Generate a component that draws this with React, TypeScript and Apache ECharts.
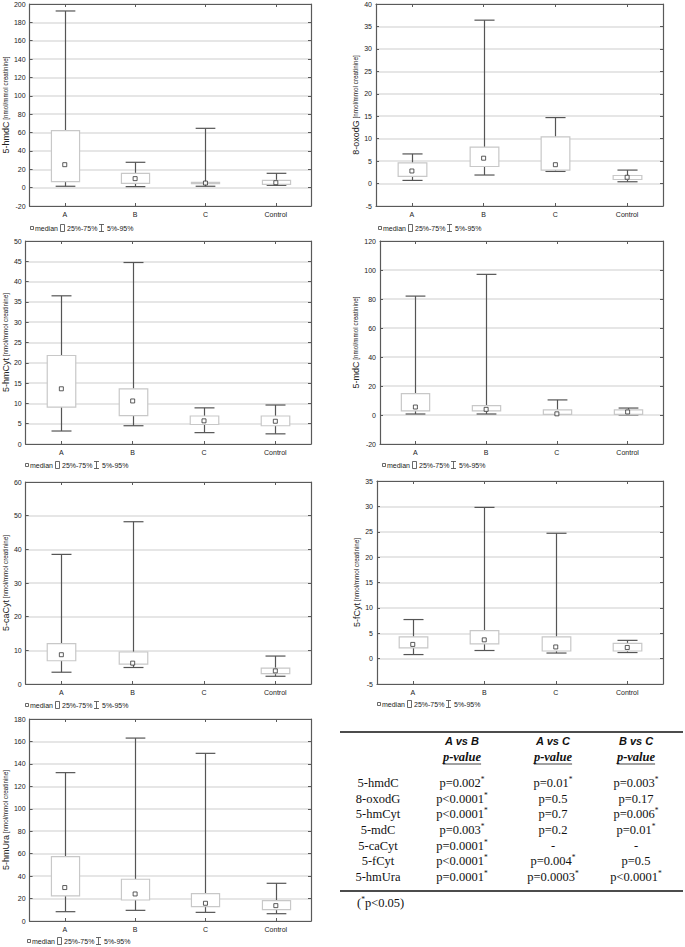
import React, { useEffect, useRef } from "react";
import * as echarts from "echarts";

const categories = ["A", "B", "C", "Control"];

// 5-hmdC
const hmdC_p05 = [1.5, 1.1, 1.5, 2.5];
const hmdC_q25 = [6.5, 4.7, 4.4, 3.6];
const hmdC_med = [25, 9.8, 5, 5.4];
const hmdC_q75 = [62, 15.6, 5.8, 8];
const hmdC_p95 = [192.4, 27.6, 64.6, 15.6];
// 8-oxodG
const oxodG_p05 = [0.7, 1.9, 2.7, 0.4];
const oxodG_q25 = [1.6, 3.8, 3.0, 0.9];
const oxodG_med = [2.8, 5.65, 4.2, 1.4];
const oxodG_q75 = [4.6, 8.1, 10.4, 1.8];
const oxodG_p95 = [6.6, 36.4, 14.7, 3.0];
// 5-hmCyt
const hmCyt_p05 = [3.2, 4.5, 2.8, 2.5];
const hmCyt_q25 = [9.1, 7.0, 4.8, 4.5];
const hmCyt_med = [13.6, 10.6, 5.7, 5.6];
const hmCyt_q75 = [21.8, 13.6, 6.9, 6.9];
const hmCyt_p95 = [36.5, 44.7, 8.9, 9.6];
// 5-mdC
const mdC_p05 = [0.7, 0.7, 0.5, 0.1];
const mdC_q25 = [2.8, 2.8, 0.5, 0.4];
const mdC_med = [5.5, 3.9, 0.8, 2.1];
const mdC_q75 = [14.7, 6.4, 3.5, 3.5];
const mdC_p95 = [82, 97, 10.4, 4.8];
// 5-caCyt (no data for C)
const caCyt_p05 = [3.5, 4.9, null, 2.3];
const caCyt_q25 = [6.9, 5.9, null, 3.1];
const caCyt_med = [8.7, 6.2, null, 3.9];
const caCyt_q75 = [12, 9.5, null, 4.7];
const caCyt_p95 = [38.5, 48.2, null, 8.3];
// 5-fCyt
const fCyt_p05 = [0.8, 1.6, 1.1, 1.2];
const fCyt_q25 = [2.1, 2.9, 1.5, 1.5];
const fCyt_med = [2.8, 3.7, 2.3, 2.2];
const fCyt_q75 = [4.3, 5.5, 4.3, 3.0];
const fCyt_p95 = [7.7, 29.8, 24.7, 3.6];
// 5-hmUra
const hmUra_p05 = [8.3, 9.5, 7.7, 6.5];
const hmUra_q25 = [22.3, 18.7, 12.8, 10.1];
const hmUra_med = [29.8, 24.1, 15.8, 13.7];
const hmUra_q75 = [57.4, 37.2, 24.4, 18.1];
const hmUra_p95 = [132.2, 163, 149.4, 33.6];

// axis ranges [min, max, step]
const hmdC_axis = [-20, 200, 20];
const oxodG_axis = [-5, 40, 5];
const hmCyt_axis = [0, 50, 5];
const mdC_axis = [-20, 120, 20];
const caCyt_axis = [0, 60, 10];
const fCyt_axis = [-5, 35, 5];
const hmUra_axis = [0, 180, 20];

// table
const tableRows = ["5-hmdC", "8-oxodG", "5-hmCyt", "5-mdC", "5-caCyt", "5-fCyt", "5-hmUra"];
const tableHeaders = ["A vs B", "A vs C", "B vs C"];
const pAB = ["p=0.002*", "p<0.0001*", "p<0.0001*", "p=0.003*", "p=0.0001*", "p<0.0001*", "p=0.0001*"];
const pAC = ["p=0.01*", "p=0.5", "p=0.7", "p=0.2", "-", "p=0.004*", "p=0.0003*"];
const pBC = ["p=0.003*", "p=0.17", "p=0.006*", "p=0.01*", "-", "p=0.5", "p<0.0001*"];
const footnote = "(*p<0.05)";

const SANS = '"Liberation Sans", Arial, sans-serif';
const SERIF = '"Liberation Serif", "Times New Roman", serif';
const FRAME = "#5a5a5a";
const WHISK = "#555555";
const BOXC = "#c8c8c8";

const panels = [
  { name: "5-hmdC", d: [hmdC_p05, hmdC_q25, hmdC_med, hmdC_q75, hmdC_p95], ax: hmdC_axis,
    left: 27, top: 4, width: 284, height: 202, titleX: 5, lx: 30, ly: 228 },
  { name: "8-oxodG", d: [oxodG_p05, oxodG_q25, oxodG_med, oxodG_q75, oxodG_p95], ax: oxodG_axis,
    left: 376, top: 4, width: 287, height: 202, titleX: 358, lx: 378, ly: 228 },
  { name: "5-hmCyt", d: [hmCyt_p05, hmCyt_q25, hmCyt_med, hmCyt_q75, hmCyt_p95], ax: hmCyt_axis,
    left: 23, top: 241, width: 288, height: 203, titleX: 5, lx: 25, ly: 465 },
  { name: "5-mdC", d: [mdC_p05, mdC_q25, mdC_med, mdC_q75, mdC_p95], ax: mdC_axis,
    left: 380, top: 241, width: 283, height: 203, titleX: 360, lx: 382, ly: 465 },
  { name: "5-caCyt", d: [caCyt_p05, caCyt_q25, caCyt_med, caCyt_q75, caCyt_p95], ax: caCyt_axis,
    left: 23, top: 482, width: 288, height: 202, titleX: 5, lx: 25, ly: 705 },
  { name: "5-fCyt", d: [fCyt_p05, fCyt_q25, fCyt_med, fCyt_q75, fCyt_p95], ax: fCyt_axis,
    left: 377, top: 481, width: 286, height: 203, titleX: 356, lx: 377, ly: 704 },
  { name: "5-hmUra", d: [hmUra_p05, hmUra_q25, hmUra_med, hmUra_q75, hmUra_p95], ax: hmUra_axis,
    left: 27, top: 719, width: 284, height: 202, titleX: 5, lx: 27, ly: 941 },
];

function renderBox(_params: any, api: any) {
  const x = api.value(0);
  const pLow = api.coord([x, api.value(1)]);
  const pQ1 = api.coord([x, api.value(2)]);
  const pQ3 = api.coord([x, api.value(4)]);
  const pHigh = api.coord([x, api.value(5)]);
  const band = api.size([1, 0])[0];
  const boxW = band * 0.4;
  const capW = band * 0.28;
  const cx = Math.round(pLow[0]) + 0.5;
  const ws = { stroke: WHISK, lineWidth: 1.2 };
  return {
    type: "group",
    children: [
      { type: "line", shape: { x1: cx, y1: pHigh[1], x2: cx, y2: pQ3[1] }, style: ws },
      { type: "line", shape: { x1: cx, y1: pQ1[1], x2: cx, y2: pLow[1] }, style: ws },
      { type: "line", shape: { x1: cx - capW / 2, y1: pHigh[1], x2: cx + capW / 2, y2: pHigh[1] }, style: ws },
      { type: "line", shape: { x1: cx - capW / 2, y1: pLow[1], x2: cx + capW / 2, y2: pLow[1] }, style: ws },
      {
        type: "rect",
        shape: { x: cx - boxW / 2, y: pQ3[1], width: boxW, height: Math.max(pQ1[1] - pQ3[1], 0.5) },
        style: { fill: "#ffffff", stroke: BOXC, lineWidth: 1.2 },
      },
    ],
  };
}

function supRich(s: string) {
  if (s.endsWith("*")) return `{t|${s.slice(0, -1)}}{s|*}`;
  return `{t|${s}}`;
}

const bodyRich = {
  t: { fontFamily: SERIF, fontSize: 12.5, lineHeight: 15, fill: "#111", color: "#111" },
  s: { fontFamily: SERIF, fontSize: 7.5, lineHeight: 9, verticalAlign: "top", fill: "#111", color: "#111" },
};

function textEl(x: number, y: number, text: string, extra: any, align = "center") {
  return {
    type: "text",
    x,
    y,
    silent: true,
    style: Object.assign(
      { text, x: 0, y: 0, align, verticalAlign: "middle", textAlign: align, textVerticalAlign: "middle", fill: "#111" },
      extra
    ),
  };
}

function buildOption() {
  const grid: any[] = [];
  const xAxis: any[] = [];
  const yAxis: any[] = [];
  const series: any[] = [];
  const graphic: any[] = [];

  panels.forEach((p, i) => {
    const [mn, mx, st] = p.ax;
    grid.push({ left: p.left, top: p.top, width: p.width, height: p.height, show: false, containLabel: false });
    const line = { show: true, onZero: false, lineStyle: { color: FRAME, width: 1.2 } };
    xAxis.push({
      gridIndex: i, type: "category", data: categories, position: "bottom",
      axisLine: line,
      axisTick: { show: true, inside: true, alignWithLabel: true, length: 3, lineStyle: { color: FRAME } },
      axisLabel: { fontSize: 7, color: "#222", margin: 5, fontFamily: SANS },
      splitLine: { show: false },
    });
    xAxis.push({
      gridIndex: i, type: "category", data: categories, position: "top",
      axisLine: line,
      axisTick: { show: true, inside: true, alignWithLabel: true, length: 3, lineStyle: { color: FRAME } },
      axisLabel: { show: false },
      splitLine: { show: false },
    });
    yAxis.push({
      gridIndex: i, type: "value", min: mn, max: mx, interval: st, position: "left",
      axisLine: line,
      axisTick: { show: true, inside: true, length: 3, lineStyle: { color: FRAME } },
      axisLabel: { fontSize: 7, color: "#222", margin: 4, fontFamily: SANS },
      splitLine: { show: true, lineStyle: { color: "#dedede", width: 1.5 } },
      name: `{a|${p.name}}{b| [nmol/mmol creatinine]}`,
      nameLocation: "middle",
      nameGap: p.left - p.titleX - 5.5,
      nameTextStyle: {
        color: "#222",
        fontFamily: SANS,
        rich: {
          a: { fontSize: 9, fontFamily: SANS, color: "#222" },
          b: { fontSize: 6.3, fontFamily: SANS, color: "#222" },
        },
      },
    });
    yAxis.push({
      gridIndex: i, type: "value", min: mn, max: mx, interval: st, position: "right",
      axisLine: line,
      axisTick: { show: true, inside: true, length: 3, lineStyle: { color: FRAME } },
      axisLabel: { show: false },
      splitLine: { show: false },
    });

    const [p05, q25, med, q75, p95] = p.d;
    const boxData: any[] = [];
    const medData: any[] = [];
    categories.forEach((_c, k) => {
      if (med[k] == null) return;
      boxData.push([k, p05[k], q25[k], med[k], q75[k], p95[k]]);
      medData.push([k, med[k]]);
    });
    series.push({
      type: "custom",
      xAxisIndex: 2 * i,
      yAxisIndex: 2 * i,
      encode: { x: 0, y: [1, 2, 3, 4, 5] },
      data: boxData,
      renderItem: renderBox,
      z: 3,
    });
    series.push({
      type: "scatter",
      xAxisIndex: 2 * i,
      yAxisIndex: 2 * i,
      data: medData,
      symbol: "rect",
      symbolSize: 4,
      itemStyle: { color: "#ffffff", borderColor: "#333", borderWidth: 1 },
      z: 5,
    });

    // legend
    const lx = p.lx;
    const ly = p.ly;
    const ls = { stroke: "#444", lineWidth: 0.8, fill: "none" };
    const lt = { fontSize: 7, fontFamily: SANS, fill: "#222" };
    graphic.push({ type: "rect", shape: { x: lx + 0.5, y: ly - 1.5, width: 3, height: 3 }, style: ls, silent: true });
    graphic.push(textEl(lx + 5, ly, "median", lt, "left"));
    graphic.push({ type: "rect", shape: { x: lx + 30.5, y: ly - 3.5, width: 4, height: 7 }, style: ls, silent: true });
    graphic.push(textEl(lx + 37, ly, "25%-75%", lt, "left"));
    graphic.push({ type: "line", shape: { x1: lx + 69, y1: ly - 3.5, x2: lx + 74, y2: ly - 3.5 }, style: ls, silent: true });
    graphic.push({ type: "line", shape: { x1: lx + 71.5, y1: ly - 3.5, x2: lx + 71.5, y2: ly + 3.5 }, style: ls, silent: true });
    graphic.push({ type: "line", shape: { x1: lx + 69, y1: ly + 3.5, x2: lx + 74, y2: ly + 3.5 }, style: ls, silent: true });
    graphic.push(textEl(lx + 77, ly, "5%-95%", lt, "left"));
  });

  // table
  const colX = [378, 462, 553, 636];
  const ruleL = 340;
  const ruleR = 683;
  graphic.push({ type: "line", shape: { x1: ruleL, y1: 732, x2: ruleR, y2: 732 }, style: { stroke: "#111", lineWidth: 1.5 }, silent: true });
  graphic.push({ type: "line", shape: { x1: ruleL, y1: 891, x2: ruleR, y2: 891 }, style: { stroke: "#111", lineWidth: 1.5 }, silent: true });

  let measure = (s: string, _font: string) => s.length * 6;
  try {
    const ctx = document.createElement("canvas").getContext("2d");
    if (ctx) {
      measure = (s: string, font: string) => {
        ctx.font = font;
        return ctx.measureText(s).width;
      };
    }
  } catch (e) {}
  const pvFont = 'italic bold 12.5px "Liberation Serif"';
  const pvW = measure("p-value", pvFont);

  tableHeaders.forEach((h, k) => {
    const cx = colX[k + 1];
    graphic.push(textEl(cx, 741, h, { fontFamily: SANS, fontSize: 11, fontWeight: "bold", fontStyle: "italic", fill: "#111" }));
    graphic.push(textEl(cx, 757, "p-value", { fontFamily: SERIF, fontSize: 12.5, fontWeight: "bold", fontStyle: "italic", fill: "#111" }));
    graphic.push({ type: "line", shape: { x1: cx - pvW / 2, y1: 764, x2: cx + pvW / 2, y2: 764 }, style: { stroke: "#111", lineWidth: 0.8 }, silent: true });
  });

  tableRows.forEach((r, k) => {
    const y = 783 + 15.67 * k;
    graphic.push(textEl(colX[0], y, r, { fontFamily: SERIF, fontSize: 12.5, fill: "#111" }));
    [pAB[k], pAC[k], pBC[k]].forEach((v, j) => {
      graphic.push(textEl(colX[j + 1], y, supRich(v), { rich: bodyRich, fontFamily: SERIF, fontSize: 12.5, fill: "#111" }));
    });
  });
  const fn = footnote.replace("*", "}{s|*}{t|");
  graphic.push(textEl(357, 903, `{t|${fn}}`, { rich: bodyRich, fontFamily: SERIF, fontSize: 12.5, fill: "#111" }, "left"));

  return {
    animation: false,
    backgroundColor: "#ffffff",
    grid,
    xAxis,
    yAxis,
    series,
    graphic: { elements: graphic },
  };
}

export default function App() {
  const ref = useRef<HTMLDivElement>(null);
  useEffect(() => {
    document.body.style.margin = "0";
    if (!ref.current) return;
    const chart = echarts.init(ref.current, undefined, { renderer: "svg" });
    chart.setOption(buildOption() as any);
    return () => chart.dispose();
  }, []);
  return <div ref={ref} style={{ width: 685, height: 947 }} />;
}
